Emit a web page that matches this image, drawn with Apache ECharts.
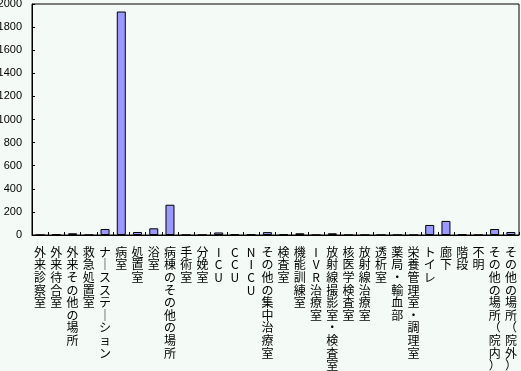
<!DOCTYPE html>
<html>
<head>
<meta charset="utf-8">
<script src="https://cdn.jsdelivr.net/npm/echarts@6/dist/echarts.min.js"></script>
<style>
html,body{margin:0;padding:0;background:#F4FAF6;}
#c{width:521px;height:371px;}
</style>
</head>
<body>
<div id="c"></div>
<script>
var categories = ["外来診察室","外来待合室","外来その他の場所","救急処置室","ナースステーション","病室","処置室","浴室","病棟のその他の場所","手術室","分娩室","ICU","CCU","NICU","その他の集中治療室","検査室","機能訓練室","IVR治療室","放射線撮影室・検査室","核医学検査室","放射線治療室","透析室","薬局・輸血部","栄養管理室・調理室","トイレ","廊下","階段","不明","その他の場所（院内）","その他の場所（院外）"];
var values = [0,5,15,0,52,1935,26,58,262,0,0,22,5,5,25,5,15,0,15,0,0,0,0,0,87,122,5,0,52,26];
var yTicks = {min:0, max:2000, interval:200};

var chart = echarts.init(document.getElementById('c'), null, {renderer:'canvas'});
chart.setOption({
  backgroundColor:'#F4FAF6',
  animation:false,
  grid:{left:32, top:4, right:2, bottom:136, containLabel:false, outerBoundsMode:'none', show:true, borderColor:'#000', borderWidth:1, backgroundColor:'#F4FAF6'},
  xAxis:{
    type:'category', data:categories,
    axisLine:{lineStyle:{color:'#000', width:1}},
    axisTick:{show:true, inside:true, length:3, alignWithLabel:false, lineStyle:{color:'#000'}},
    axisLabel:{interval:0, color:'#000', fontSize:12, fontFamily:'Noto Sans CJK JP', lineHeight:12.6, margin:11,
      formatter:function(v){return v.replace(/ー/g,'｜').split('').join('\n');}}
  },
  yAxis:{
    type:'value', min:yTicks.min, max:yTicks.max, interval:yTicks.interval,
    axisLine:{show:true, lineStyle:{color:'#000', width:1}},
    axisTick:{show:true, inside:true, length:3, lineStyle:{color:'#000'}},
    splitLine:{show:false},
    axisLabel:{color:'#000', fontSize:11, fontFamily:'Liberation Sans', margin:10, formatter:function(v){return String(v);}}
  },
  series:[{
    type:'bar', data:values, barWidth:9,
    itemStyle:{color:'#9999FF', borderColor:'#000', borderWidth:1}
  }]
});
</script>
</body>
</html>
